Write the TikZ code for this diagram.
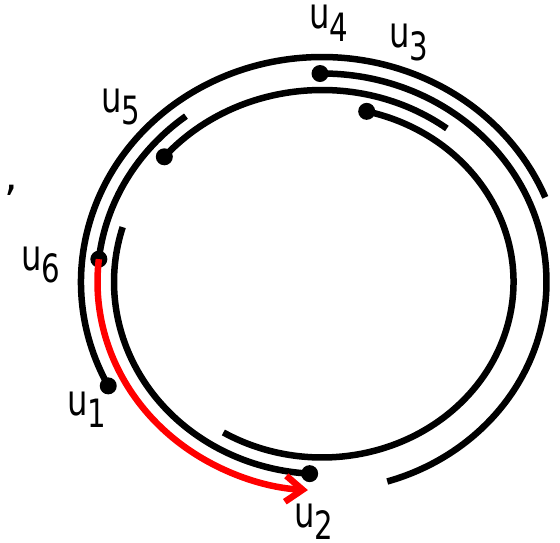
\documentclass[tikz,border=0pt]{standalone}
\usepackage{fontspec}
\setmainfont{DejaVu Sans}
\usepackage{graphicx}
\usetikzlibrary{arrows.meta}

% vertex label u_i
\newcommand{\ulab}[1]{\scalebox{0.75}[1]{\fontsize{43}{50}\selectfont u\raisebox{-0.3em}{\fontsize{39}{45}\selectfont #1}}}

\begin{document}
\begin{tikzpicture}[x=1pt,y=-1pt,
  arcline/.style={line width=6.5pt},
  dot/.style={circle,fill,inner sep=0pt,minimum size=17pt},
  lbl/.style={anchor=base west,inner sep=0pt},
  % the four rings, from the outside in
  lev0/.style={x radius=241,y radius=225},
  lev1/.style={x radius=224.5,y radius=208.5},
  lev2/.style={x radius=208,y radius=192},
  lev3/.style={x radius=191.5,y radius=175.5}]
\useasboundingbox (0,0) rectangle (560,543);
\coordinate (O) at (322,282);

% start points of the paths
\path (O) ++(152.5:241 and 225) node[dot] (u1) {};
\path (O) ++(93.4:208 and 192) node[dot] (u2) {};
\path (O) ++(283.5:191.5 and 175.5) node[dot] (u3) {};
\path (O) ++(269.5:224.5 and 208.5) node[dot] (u4) {};
\path (O) ++(220.7:208 and 192) node[dot] (u5) {};
\path (O) ++(186.3:224.5 and 208.5) node[dot] (u6) {};

% paths, all running clockwise from their start point
\draw[arcline] (u1.center) arc[lev0,start angle=152.5,end angle=337.9];
\draw[arcline] (u4.center) arc[lev1,start angle=269.5,end angle=433.1];
\draw[arcline] (u3.center) arc[lev3,start angle=283.5,end angle=481];
\draw[arcline] (u5.center) arc[lev2,start angle=220.7,end angle=306.9];
\draw[arcline] (u6.center) arc[lev1,start angle=186.3,end angle=232.7];
\draw[arcline] (u2.center) arc[lev2,start angle=93.4,end angle=196.6];

% the red path from u6 to u2
\draw[arcline,red,-{Straight Barb[length=17pt,width=26pt]}] (u6.center)
  arc[lev1,start angle=186.3,end angle=93.6];

% labels
\node[lbl] (l1) at (67,415) {\ulab{1}};
\node[lbl] (l2) at (294,527) {\ulab{2}};
\node[lbl] (l3) at (389,48) {\ulab{3}};
\node[lbl] (l4) at (309,29) {\ulab{4}};
\node[lbl] (l5) at (101,112) {\ulab{5}};
\node[lbl] (l6) at (21,270) {\ulab{6}};
\node (tick) at (11,190) {\fontsize{43}{50}\selectfont ,};
\end{tikzpicture}
\end{document}
